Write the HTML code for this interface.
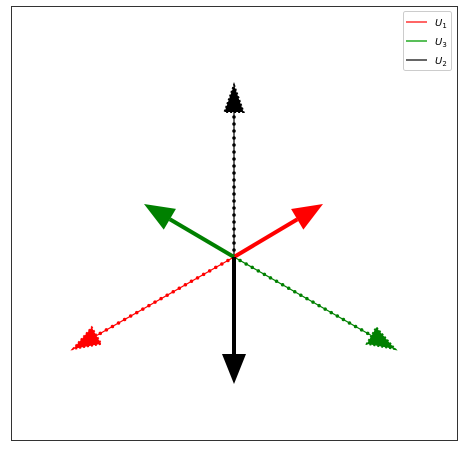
<!DOCTYPE html>
<html><head><meta charset="utf-8"><style>
body{margin:0;background:#fff;}
svg{display:block;font-family:"DejaVu Sans","Liberation Sans",sans-serif;}
</style></head><body>
<svg id="chart" width="464" height="452" viewBox="0 0 464 452" xmlns="http://www.w3.org/2000/svg">
<rect x="11.5" y="6.5" width="446" height="434" fill="#fff" stroke="#333" stroke-width="1"/>
<g id="marks"></g>
<g>
<rect x="403.5" y="11.5" width="48" height="59" rx="2" fill="#fff" stroke="#ccc" stroke-width="1"/>
<line x1="406" y1="22" x2="427" y2="22" stroke="#f33" stroke-width="1.5"/>
<text x="435" y="26" font-size="10" font-style="italic">U<tspan font-size="7" dy="2" font-style="normal">1</tspan></text>
<line x1="406" y1="41" x2="427" y2="41" stroke="#2a2" stroke-width="1.5"/>
<text x="435" y="45" font-size="10" font-style="italic">U<tspan font-size="7" dy="2" font-style="normal">3</tspan></text>
<line x1="406" y1="60" x2="427" y2="60" stroke="#333" stroke-width="1.5"/>
<text x="435" y="64" font-size="10" font-style="italic">U<tspan font-size="7" dy="2" font-style="normal">2</tspan></text>
</g>
</svg>
<script>
const seriesNames = ['u1','u3','u2'];
const seriesColors = ['#ff0000','#008000','#000000'];
const solidX = [0.89, -0.90, 0.0];
const solidY = [0.53, 0.53, -1.27];
const dottedX = [-1.61, 1.61, 0.0];
const dottedY = [-0.92, -0.92, 1.72];

const cx = 234, cy = 257, unit = 100;
const sx = v => cx + v*unit;
const sy = v => cy - v*unit;
const NS = 'http://www.w3.org/2000/svg';
const g = document.getElementById('marks');

function arrow(x, y, color, headW, headL, shaftW, dotted, name){
  const x2 = sx(x), y2 = sy(y);
  const dx = x2-cx, dy = y2-cy, len = Math.hypot(dx,dy);
  const ux = dx/len, uy = dy/len, px = -uy, py = ux;
  const bx = x2-ux*headL, by = y2-uy*headL;
  const line = document.createElementNS(NS,'line');
  
  
  line.setAttribute('x1', cx); line.setAttribute('y1', cy);
  line.setAttribute('x2', bx); line.setAttribute('y2', by);
  line.setAttribute('stroke', color);
  line.setAttribute('stroke-width', shaftW);
  g.appendChild(line);
  if (dotted){
    const d = document.createElementNS(NS,'line');
    
    
    d.setAttribute('x1', cx); d.setAttribute('y1', cy);
    d.setAttribute('x2', bx); d.setAttribute('y2', by);
    d.setAttribute('stroke', color);
    d.setAttribute('stroke-width', 3.5);
    d.setAttribute('stroke-linecap', 'round');
    d.setAttribute('stroke-dasharray', '0 7');
    g.appendChild(d);
  }
  const head = document.createElementNS(NS,'polygon');
  
  
  head.setAttribute('points', `${x2},${y2} ${bx+px*headW/2},${by+py*headW/2} ${bx-px*headW/2},${by-py*headW/2}`);
  head.setAttribute('fill', color);
  if (dotted){ head.setAttribute('stroke', color); head.setAttribute('stroke-width', 2); head.setAttribute('stroke-dasharray','2 2'); }
  g.appendChild(head);
}
for (let i=0;i<seriesNames.length;i++){
  arrow(dottedX[i], dottedY[i], seriesColors[i], 19, 27, 1.2, true, seriesNames[i]+'-dotted-arrow');
}
for (let i=0;i<seriesNames.length;i++){
  arrow(solidX[i], solidY[i], seriesColors[i], 24, 30, 4, false, seriesNames[i]+'-solid-arrow');
}
</script>
</body></html>
